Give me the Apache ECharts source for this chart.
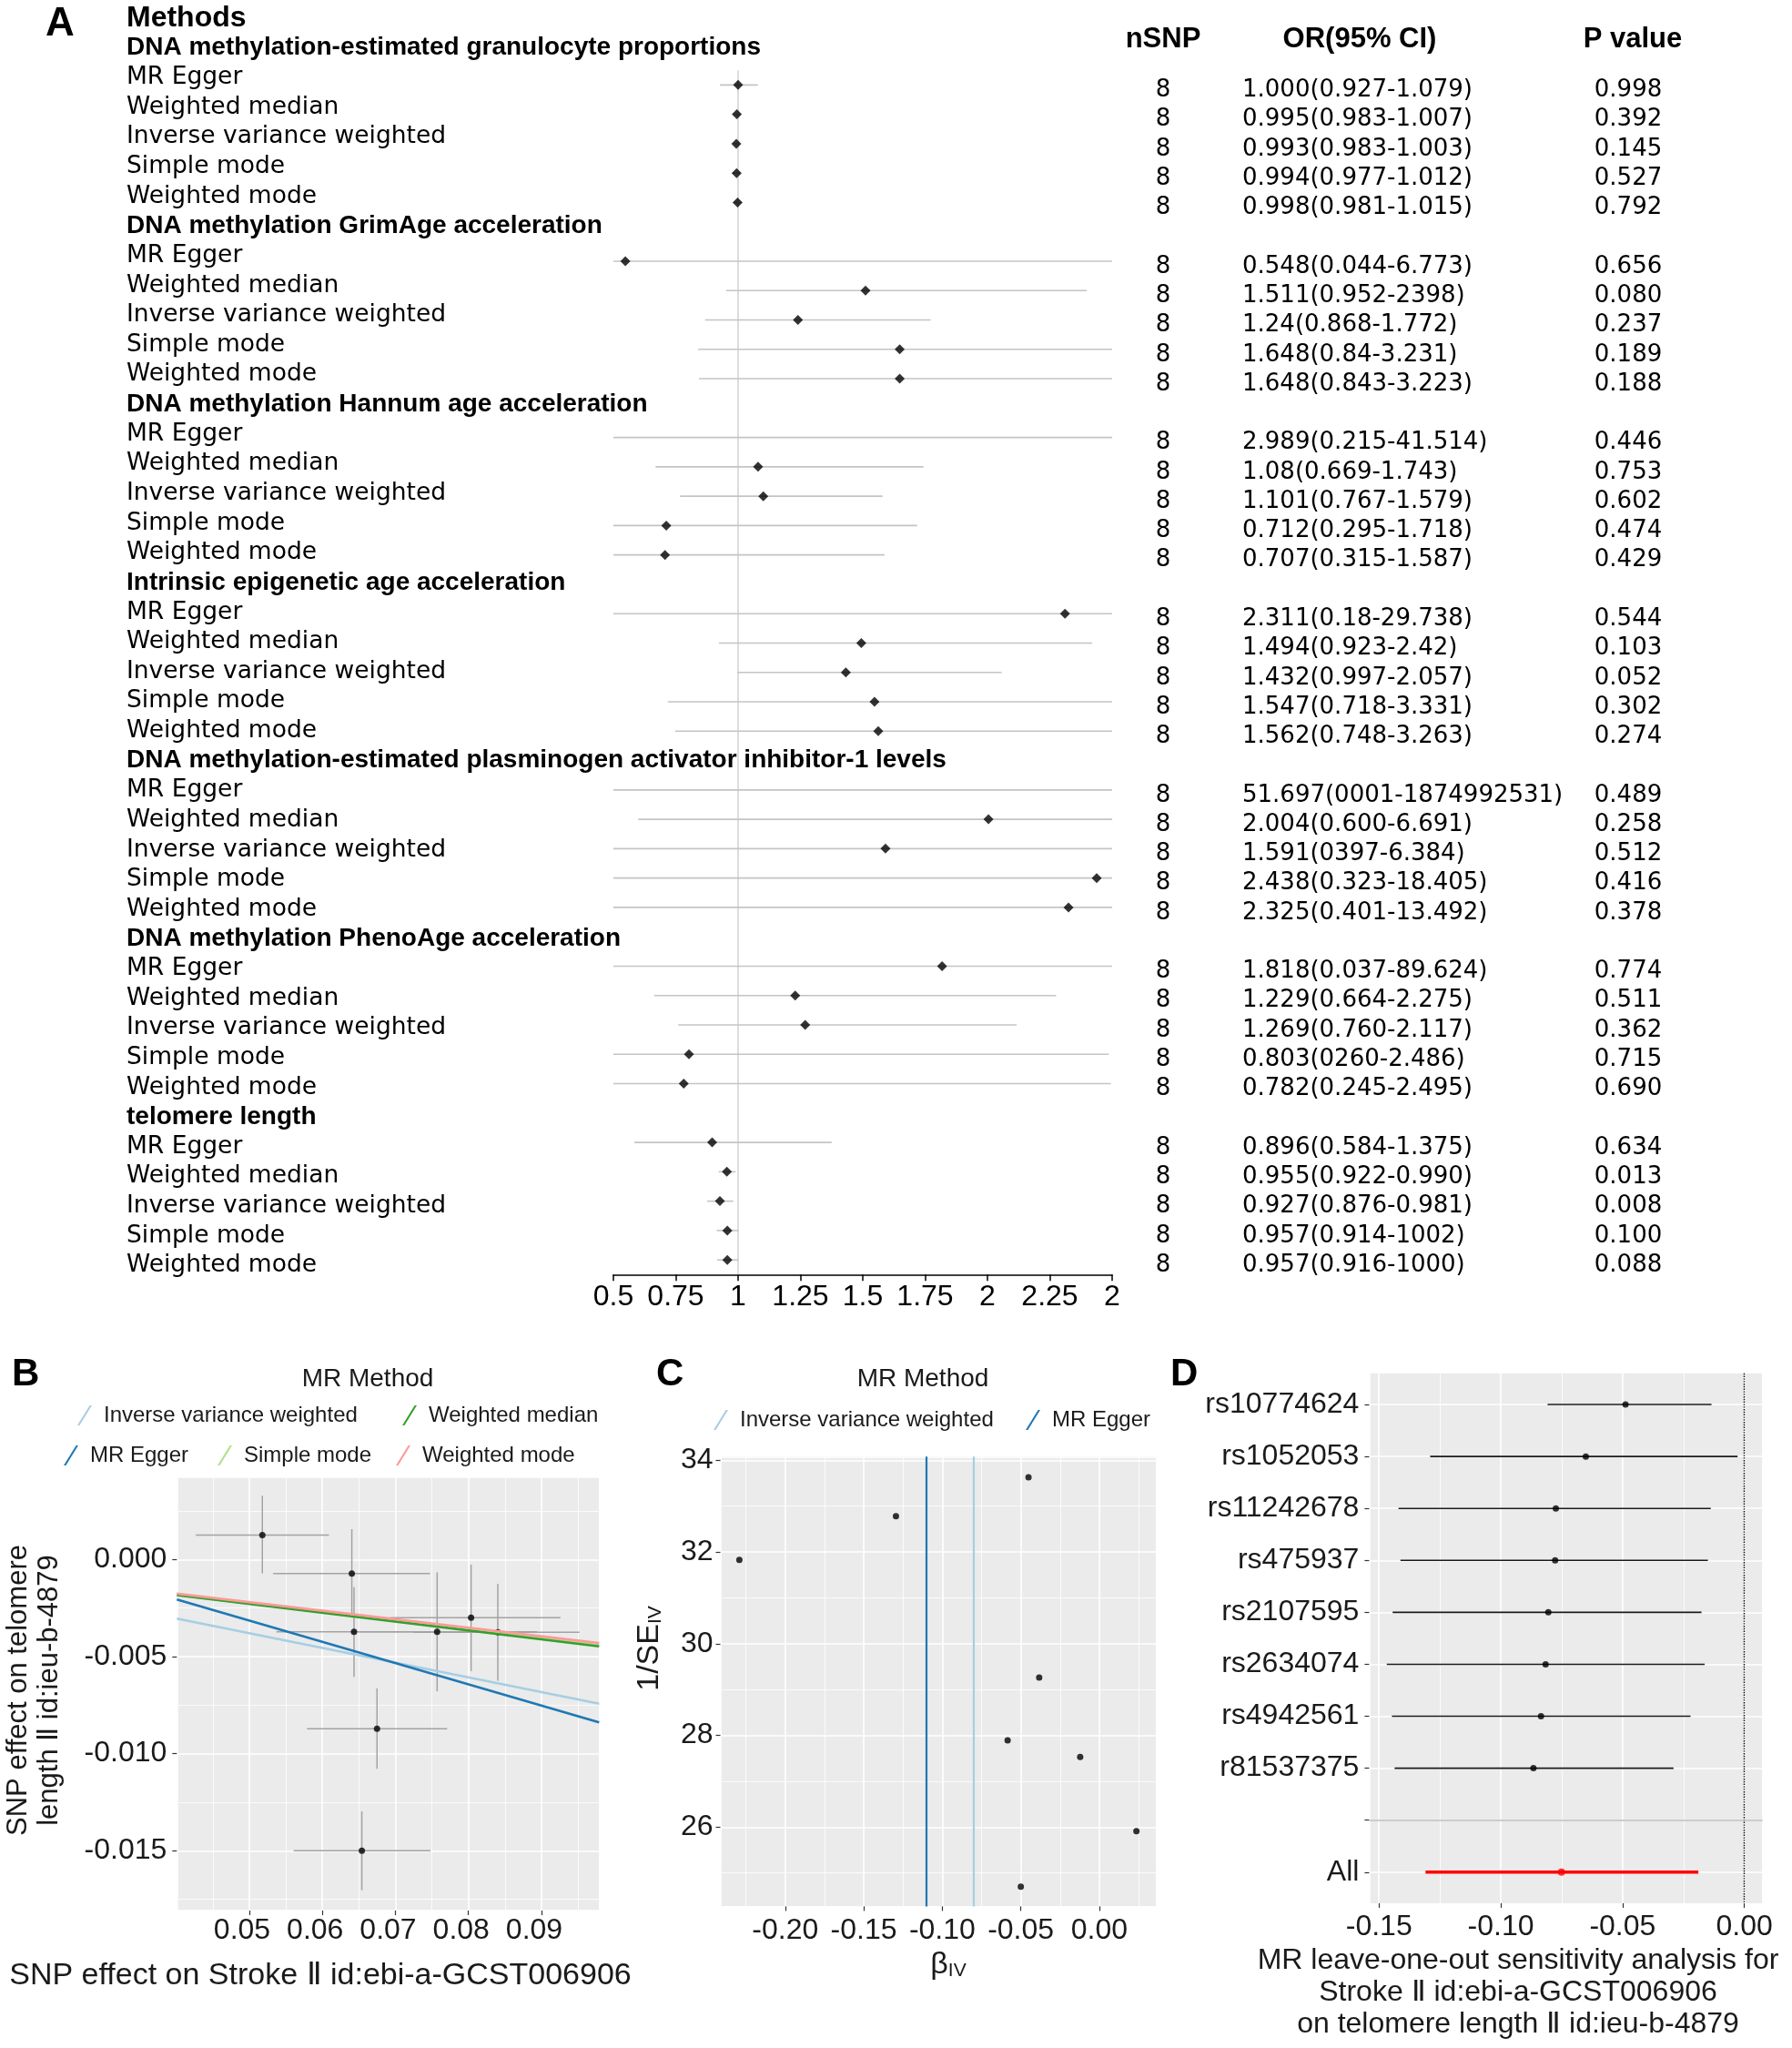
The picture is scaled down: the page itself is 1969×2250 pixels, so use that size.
<!DOCTYPE html>
<html>
<head>
<meta charset="utf-8">
<title>MR forest and sensitivity plots</title>
<script src="https://cdn.jsdelivr.net/npm/echarts@6.0.0/dist/echarts.min.js"></script>
<style>
html,body{margin:0;padding:0;background:#ffffff;}
#chart{width:1969px;height:2250px;}
</style>
</head>
<body>
<div id="chart"></div>
<script>
// ================= Panel A : forest plot =================
const groupNames = [
  'DNA methylation-estimated granulocyte proportions',
  'DNA methylation GrimAge acceleration',
  'DNA methylation Hannum age acceleration',
  'Intrinsic epigenetic age acceleration',
  'DNA methylation-estimated plasminogen activator inhibitor-1 levels',
  'DNA methylation PhenoAge acceleration',
  'telomere length'
];
const methodNames = ['MR Egger', 'Weighted median', 'Inverse variance weighted', 'Simple mode', 'Weighted mode'];

const orValues = [
  1.000, 0.995, 0.993, 0.994, 0.998,
  0.548, 1.511, 1.24, 1.648, 1.648,
  2.989, 1.08, 1.101, 0.712, 0.707,
  2.311, 1.494, 1.432, 1.547, 1.562,
  51.697, 2.004, 1.591, 2.438, 2.325,
  1.818, 1.229, 1.269, 0.803, 0.782,
  0.896, 0.955, 0.927, 0.957, 0.957
];
const ciLower = [
  0.927, 0.983, 0.983, 0.977, 0.981,
  0.044, 0.952, 0.868, 0.84, 0.843,
  0.215, 0.669, 0.767, 0.295, 0.315,
  0.18, 0.923, 0.997, 0.718, 0.748,
  0.001, 0.600, 0.397, 0.323, 0.401,
  0.037, 0.664, 0.760, 0.260, 0.245,
  0.584, 0.922, 0.876, 0.914, 0.916
];
const ciUpper = [
  1.079, 1.007, 1.003, 1.012, 1.015,
  6.773, 2.398, 1.772, 3.231, 3.223,
  41.514, 1.743, 1.579, 1.718, 1.587,
  29.738, 2.42, 2.057, 3.331, 3.263,
  1874992531, 6.691, 6.384, 18.405, 13.492,
  89.624, 2.275, 2.117, 2.486, 2.495,
  1.375, 0.990, 0.981, 1.002, 1.000
];
const nsnpText = [
  '8','8','8','8','8',
  '8','8','8','8','8',
  '8','8','8','8','8',
  '8','8','8','8','8',
  '8','8','8','8','8',
  '8','8','8','8','8',
  '8','8','8','8','8'
];
const orText = [
  '1.000(0.927-1.079)', '0.995(0.983-1.007)', '0.993(0.983-1.003)', '0.994(0.977-1.012)', '0.998(0.981-1.015)',
  '0.548(0.044-6.773)', '1.511(0.952-2398)', '1.24(0.868-1.772)', '1.648(0.84-3.231)', '1.648(0.843-3.223)',
  '2.989(0.215-41.514)', '1.08(0.669-1.743)', '1.101(0.767-1.579)', '0.712(0.295-1.718)', '0.707(0.315-1.587)',
  '2.311(0.18-29.738)', '1.494(0.923-2.42)', '1.432(0.997-2.057)', '1.547(0.718-3.331)', '1.562(0.748-3.263)',
  '51.697(0001-1874992531)', '2.004(0.600-6.691)', '1.591(0397-6.384)', '2.438(0.323-18.405)', '2.325(0.401-13.492)',
  '1.818(0.037-89.624)', '1.229(0.664-2.275)', '1.269(0.760-2.117)', '0.803(0260-2.486)', '0.782(0.245-2.495)',
  '0.896(0.584-1.375)', '0.955(0.922-0.990)', '0.927(0.876-0.981)', '0.957(0.914-1002)', '0.957(0.916-1000)'
];
const pText = [
  '0.998', '0.392', '0.145', '0.527', '0.792',
  '0.656', '0.080', '0.237', '0.189', '0.188',
  '0.446', '0.753', '0.602', '0.474', '0.429',
  '0.544', '0.103', '0.052', '0.302', '0.274',
  '0.489', '0.258', '0.512', '0.416', '0.378',
  '0.774', '0.511', '0.362', '0.715', '0.690',
  '0.634', '0.013', '0.008', '0.100', '0.088'
];
const forestTickLabels = ['0.5', '0.75', '1', '1.25', '1.5', '1.75', '2', '2.25', '2'];

// ================= Panel B : scatter of SNP effects =================
const snpExpBeta = [0.05178, 0.06403, 0.06433, 0.07571, 0.08036, 0.08402, 0.06748, 0.06540];
const snpExpLo   = [0.04267, 0.05325, 0.05370, 0.06500, 0.06930, 0.07250, 0.05789, 0.05606];
const snpExpHi   = [0.06090, 0.07472, 0.07490, 0.08940, 0.09260, 0.09520, 0.07708, 0.07480];
const snpOutBeta = [0.00125, -0.00072, -0.00372, -0.00372, -0.00300, -0.00375, -0.00872, -0.01500];
const snpOutLo   = [-0.00072, -0.00300, -0.00604, -0.00679, -0.00575, -0.00625, -0.01078, -0.01703];
const snpOutHi   = [0.00328, 0.00156, -0.00143, -0.00066, -0.00027, -0.00125, -0.00664, -0.01297];
const mrMethods    = ['Inverse variance weighted', 'MR Egger', 'Simple mode', 'Weighted median', 'Weighted mode'];
const mrSlopes     = [-0.0759, -0.1095, -0.0452, -0.0457, -0.0440];
const mrIntercepts = [0, 0.00233, 0, 0, 0];
const mrColors     = ['#A6CEE3', '#1F78B4', '#B2DF8A', '#33A02C', '#FB9A99'];

// ================= Panel C : funnel plot =================
const funnelBeta  = [-0.2292, -0.1295, -0.0451, -0.0383, -0.0584, -0.0122, 0.0236, -0.0500];
const funnelInvSE = [31.83, 32.78, 33.63, 29.26, 27.89, 27.53, 25.91, 24.70];

// ================= Panel D : leave-one-out =================
const looSnps = ['rs10774624', 'rs1052053', 'rs11242678', 'rs475937', 'rs2107595', 'rs2634074', 'rs4942561', 'r81537375', '', 'All'];
const looBeta = [-0.0488, -0.0651, -0.0774, -0.0777, -0.0805, -0.0816, -0.0835, -0.0866, null, -0.0751];
const looLo   = [-0.0808, -0.1290, -0.1420, -0.1412, -0.1444, -0.1468, -0.1447, -0.1436, null, -0.1309];
const looHi   = [-0.0135, -0.0028, -0.0138, -0.0150, -0.0176, -0.0163, -0.0221, -0.0291, null, -0.0189];

// ---------------- derived structures ----------------
const SANS = 'Liberation Sans, Arial, Helvetica, sans-serif';
const WIDE = 'DejaVu Sans, Verdana, sans-serif';
const TXT = '#1a1a1a';
const FOREST_MIN = 0.5, FOREST_MAX = 2.5;
const rowsPerGroup = methodNames.length + 1;
const nRows = groupNames.length * rowsPerGroup - 1;

const leftLabels = ['Methods'];
const leftKinds = ['m'];
groupNames.forEach(g => {
  leftLabels.push(g); leftKinds.push('h');
  methodNames.forEach(m => { leftLabels.push(m); leftKinds.push('r'); });
});

const tableN = new Array(nRows).fill('');
const tableOR = new Array(nRows).fill('');
const tableP = new Array(nRows).fill('');
const dotData = [], ciData = [];
let k = 0;
groupNames.forEach((g, gi) => {
  methodNames.forEach((m, mi) => {
    const row = gi * rowsPerGroup + mi;
    tableN[row] = nsnpText[k];
    tableOR[row] = orText[k];
    tableP[row] = pText[k];
    dotData.push([orValues[k], row]);
    ciData.push([ciLower[k], ciUpper[k], row]);
    k++;
  });
});

const B_XMIN = 0.04007, B_XMAX = 0.09789, B_YMIN = -0.01808, B_YMAX = 0.004245;
const C_XMIN = -0.2413, C_XMAX = 0.0362, C_YMIN = 24.27, C_YMAX = 34.08;
const D_XMIN = -0.15404, D_XMAX = 0.00744;

const bErrData = snpExpBeta.map((x, i) => [x, snpExpLo[i], snpExpHi[i], snpOutBeta[i], snpOutLo[i], snpOutHi[i]]);
const bPointData = snpExpBeta.map((x, i) => [x, snpOutBeta[i]]);
const cPointData = funnelBeta.map((x, i) => [x, funnelInvSE[i]]);
const dCiData = [], dPointData = [];
looSnps.forEach((s, i) => {
  if (looBeta[i] === null) return;
  const isAll = s === 'All';
  dCiData.push({ value: [looLo[i], looHi[i], i + 1], isAll: isAll });
  dPointData.push({ value: [looBeta[i], i + 1], itemStyle: { color: isAll ? '#FF0000' : '#000000' }, symbolSize: isAll ? 8 : 7 });
});
const looTickValues = looSnps.map((s, i) => i + 1);

function fmtNum(v, d) { if (Math.abs(v) < 1e-12) v = 0; return v.toFixed(d); }

function ggAxisCommon(extra) {
  return Object.assign({
    type: 'value',
    axisLine: { show: false, onZero: false },
    axisTick: { show: true, length: 5, lineStyle: { color: '#333333', width: 1.2 } },
    splitLine: { show: true, lineStyle: { color: '#ffffff', width: 1.6 } },
    minorTick: { show: false, splitNumber: 2 },
    minorSplitLine: { show: true, lineStyle: { color: '#ffffff', width: 0.8 } }
  }, extra);
}

const SLASH = 'path://M0,22L2.4,22L16,0L13.6,0Z';
function legendAt(name, left, cy) {
  return {
    selectedMode: false, data: [name], left: left, top: cy - 12, padding: 0,
    orient: 'horizontal', itemWidth: 16, itemHeight: 22, icon: SLASH,
    textStyle: { fontSize: 24, fontFamily: SANS, color: TXT, padding: [0, 0, 0, 8] }
  };
}

function gtext(x, y, text, size, opts) {
  opts = opts || {};
  return {
    type: 'text', x: x, y: y, rotation: opts.rotation || 0, silent: true,
    style: Object.assign({
      text: text, fontSize: size, fontFamily: opts.family || SANS,
      fontWeight: opts.bold ? 'bold' : 'normal', fill: opts.color || '#000',
      align: opts.align || 'center', verticalAlign: 'middle'
    }, opts.style || {})
  };
}

const chart = echarts.init(document.getElementById('chart'), null, { renderer: 'canvas', width: 1969, height: 2250 });

const tableLabel = (align) => ({ interval: 0, align: align, margin: 0, fontSize: 26, fontFamily: WIDE, color: '#000' });

const option = {
  backgroundColor: '#ffffff',
  animation: false,
  grid: [
    { left: 139, top: 3.7, width: 10, height: 1403.1, show: false, outerBoundsMode: 'none', containLabel: false },
    { left: 674, top: 77.2, width: 548, height: 1323.1, show: false, outerBoundsMode: 'none', containLabel: false },
    { left: 194.3, top: 1622.7, width: 464, height: 476.3, show: true, backgroundColor: '#EBEBEB', borderWidth: 0, outerBoundsMode: 'none', containLabel: false },
    { left: 791.5, top: 1600.3, width: 478.9, height: 494.1, show: true, backgroundColor: '#EBEBEB', borderWidth: 0, outerBoundsMode: 'none', containLabel: false },
    { left: 1504.4, top: 1508.8, width: 432.2, height: 582.2, show: true, backgroundColor: '#EBEBEB', borderWidth: 0, outerBoundsMode: 'none', containLabel: false },
    // table grid: same rows as the forest, nudged slightly down like the reference text
    { left: 674, top: 83.2, width: 548, height: 1323.1, show: false, outerBoundsMode: 'none', containLabel: false }
  ],
  xAxis: [
    { gridIndex: 0, type: 'value', show: false },
    {
      gridIndex: 1, type: 'value', min: FOREST_MIN, max: FOREST_MAX, interval: 0.25,
      axisLine: { show: true, onZero: false, lineStyle: { color: '#000', width: 1.5 } },
      axisTick: { show: true, length: 7, lineStyle: { color: '#000', width: 1.5 } },
      axisLabel: { fontSize: 32, fontFamily: SANS, color: '#000', margin: 9,
        formatter: v => forestTickLabels[Math.round((v - FOREST_MIN) / 0.25)] },
      splitLine: { show: false }
    },
    ggAxisCommon({
      gridIndex: 2, min: B_XMIN, max: B_XMAX, minInterval: 0.01, maxInterval: 0.01,
      axisLabel: { fontSize: 32, fontFamily: SANS, color: TXT, margin: 6, showMinLabel: false, showMaxLabel: false,
        padding: [0, 16, 0, 0], formatter: v => fmtNum(v, 2) }
    }),
    ggAxisCommon({
      gridIndex: 3, min: C_XMIN, max: C_XMAX, minInterval: 0.05, maxInterval: 0.05,
      axisLabel: { fontSize: 32, fontFamily: SANS, color: TXT, margin: 11, showMinLabel: false, showMaxLabel: false,
        formatter: v => fmtNum(v, 2) }
    }),
    ggAxisCommon({
      gridIndex: 4, min: D_XMIN, max: D_XMAX, minInterval: 0.05, maxInterval: 0.05,
      axisLabel: { fontSize: 32, fontFamily: SANS, color: TXT, margin: 10, showMinLabel: false, showMaxLabel: false,
        formatter: v => fmtNum(v, 2) }
    }),
    { gridIndex: 5, type: 'value', show: false }
  ],
  yAxis: [
    {
      gridIndex: 0, type: 'category', inverse: true, data: leftLabels,
      axisLine: { show: false, onZero: false }, axisTick: { show: false }, splitLine: { show: false },
      axisLabel: {
        interval: 0, align: 'left', margin: 0,
        formatter: (v, i) => '{' + leftKinds[i] + '|' + v + '}',
        rich: {
          m: { fontFamily: SANS, fontWeight: 'bold', fontSize: 32, color: '#000' },
          h: { fontFamily: SANS, fontWeight: 'bold', fontSize: 28, color: '#000' },
          r: { fontFamily: WIDE, fontSize: 26.5, color: '#000' }
        }
      }
    },
    { gridIndex: 1, type: 'value', min: -0.5, max: nRows - 0.5, inverse: true, show: false, axisLine: { onZero: false } },
    {
      gridIndex: 5, type: 'category', position: 'right', offset: 56, inverse: true, data: tableN,
      axisLine: { show: false, onZero: false }, axisTick: { show: false }, splitLine: { show: false },
      axisLabel: tableLabel('center')
    },
    {
      gridIndex: 5, type: 'category', position: 'right', offset: 143, inverse: true, data: tableOR,
      axisLine: { show: false, onZero: false }, axisTick: { show: false }, splitLine: { show: false },
      axisLabel: tableLabel('left')
    },
    {
      gridIndex: 5, type: 'category', position: 'right', offset: 567, inverse: true, data: tableP,
      axisLine: { show: false, onZero: false }, axisTick: { show: false }, splitLine: { show: false },
      axisLabel: tableLabel('center')
    },
    ggAxisCommon({
      gridIndex: 2, min: B_YMIN, max: B_YMAX, minInterval: 0.005, maxInterval: 0.005,
      axisLabel: { fontSize: 32, fontFamily: SANS, color: TXT, margin: 11, showMinLabel: false, showMaxLabel: false,
        formatter: v => fmtNum(v, 3) }
    }),
    ggAxisCommon({
      gridIndex: 3, min: C_YMIN, max: C_YMAX, minInterval: 2, maxInterval: 2,
      axisLabel: { fontSize: 32, fontFamily: SANS, color: TXT, margin: 8, showMinLabel: false, showMaxLabel: false,
        formatter: v => fmtNum(v, 0) }
    }),
    {
      gridIndex: 4, type: 'value', min: 0.4, max: 10.6, inverse: true, minInterval: 1, maxInterval: 1,
      axisLine: { show: false, onZero: false },
      axisTick: { show: true, length: 5, lineStyle: { color: '#333333', width: 1.2 }, customValues: looTickValues },
      axisLabel: { customValues: looTickValues, margin: 11, fontSize: 32, fontFamily: SANS, color: TXT,
        formatter: v => (Math.abs(v - Math.round(v)) < 1e-6 ? (looSnps[Math.round(v) - 1] || '') : '') },
      splitLine: { show: true, lineStyle: { color: '#ffffff', width: 1.6 } }
    }
  ],
  legend: [
    legendAt('Inverse variance weighted', 85, 1555),
    legendAt('Weighted median', 442, 1555),
    legendAt('MR Egger', 70, 1599),
    legendAt('Simple mode', 239, 1599),
    legendAt('Weighted mode', 435, 1599),
    legendAt('Inverse variance weighted', 784, 1560),
    legendAt('MR Egger', 1127, 1560)
  ],
  series: [
    // ---- Panel A ----
    {
      type: 'custom', name: 'forestCI', xAxisIndex: 1, yAxisIndex: 1, data: ciData, silent: true, z: 2,
      encode: { x: [0, 1], y: 2 },
      renderItem: function (params, api) {
        const lo = Math.max(api.value(0), FOREST_MIN), hi = Math.min(api.value(1), FOREST_MAX);
        const r = api.value(2);
        const p1 = api.coord([lo, r]), p2 = api.coord([hi, r]);
        return { type: 'line', shape: { x1: p1[0], y1: p1[1], x2: p2[0], y2: p2[1] }, style: { stroke: '#C4C4C4', lineWidth: 1.6 } };
      }
    },
    {
      type: 'scatter', name: 'forestOR', xAxisIndex: 1, yAxisIndex: 1, data: dotData, clip: true, silent: true, z: 3,
      symbol: 'diamond', symbolSize: [11, 11], itemStyle: { color: '#000' },
      markLine: { silent: true, symbol: ['none', 'none'], label: { show: false }, z: 1,
        lineStyle: { color: '#D2D2D2', width: 1.5, type: 'solid' }, data: [{ xAxis: 1 }] }
    },
    // ---- Panel B ----
    {
      type: 'custom', name: 'snpErr', xAxisIndex: 2, yAxisIndex: 5, data: bErrData, silent: true, z: 2,
      encode: { x: [0, 1, 2], y: [3, 4, 5] },
      renderItem: function (params, api) {
        const x = api.value(0), xl = api.value(1), xh = api.value(2);
        const y = api.value(3), yl = api.value(4), yh = api.value(5);
        const a = api.coord([xl, y]), b = api.coord([xh, y]), c = api.coord([x, yl]), d = api.coord([x, yh]);
        const st = { stroke: '#A3A3A3', lineWidth: 1.5 };
        return { type: 'group', children: [
          { type: 'line', shape: { x1: a[0], y1: a[1], x2: b[0], y2: b[1] }, style: st },
          { type: 'line', shape: { x1: c[0], y1: c[1], x2: d[0], y2: d[1] }, style: st }
        ] };
      }
    },
    {
      type: 'scatter', name: 'snpPoints', xAxisIndex: 2, yAxisIndex: 5, data: bPointData, silent: true, z: 3,
      symbol: 'circle', symbolSize: 7, itemStyle: { color: '#000' }
    }
  ].concat(mrMethods.map((m, i) => ({
    type: 'line', name: m, xAxisIndex: 2, yAxisIndex: 5, silent: true, z: 4,
    showSymbol: false, symbol: 'none', color: mrColors[i], itemStyle: { color: mrColors[i] },
    lineStyle: { color: mrColors[i], width: 2.6 },
    data: [[B_XMIN, mrIntercepts[i] + mrSlopes[i] * B_XMIN], [B_XMAX, mrIntercepts[i] + mrSlopes[i] * B_XMAX]]
  }))).concat([
    // ---- Panel C ----
    {
      type: 'scatter', name: 'funnel', xAxisIndex: 3, yAxisIndex: 6, data: cPointData, silent: true, z: 3,
      symbol: 'circle', symbolSize: 7, itemStyle: { color: '#000' },
      markLine: {
        silent: true, symbol: ['none', 'none'], label: { show: false },
        data: [
          { xAxis: mrSlopes[0], lineStyle: { color: mrColors[0], width: 2.2, type: 'solid' } },
          { xAxis: mrSlopes[1], lineStyle: { color: mrColors[1], width: 2.2, type: 'solid' } }
        ]
      }
    },
    // ---- Panel D ----
    {
      type: 'custom', name: 'looCI', xAxisIndex: 4, yAxisIndex: 7, data: dCiData, silent: true, z: 2,
      encode: { x: [0, 1], y: 2 },
      renderItem: function (params, api) {
        const item = dCiData[params.dataIndex];
        const r = api.value(2);
        const p1 = api.coord([api.value(0), r]), p2 = api.coord([api.value(1), r]);
        return { type: 'line', shape: { x1: p1[0], y1: p1[1], x2: p2[0], y2: p2[1] },
          style: { stroke: item.isAll ? '#FF0000' : '#1a1a1a', lineWidth: item.isAll ? 3.5 : 1.6 } };
      }
    },
    {
      type: 'scatter', name: 'looPoints', xAxisIndex: 4, yAxisIndex: 7, data: dPointData, silent: true, z: 3,
      symbol: 'circle',
      markLine: {
        silent: true, symbol: ['none', 'none'], label: { show: false },
        data: [
          { xAxis: 0, lineStyle: { color: '#000', width: 1.4, type: 'dotted' } },
          { yAxis: 9, lineStyle: { color: '#BDBDBD', width: 1.6, type: 'solid' } }
        ]
      }
    }
  ]),
  graphic: [
    gtext(50, 27, 'A', 44, { bold: true, align: 'left' }),
    gtext(1278, 43, 'nSNP', 31, { bold: true }),
    gtext(1494, 43, 'OR(95% CI)', 31, { bold: true }),
    gtext(1794, 43, 'P value', 31, { bold: true }),
    gtext(13, 1510, 'B', 42, { bold: true, align: 'left' }),
    gtext(721, 1510, 'C', 42, { bold: true, align: 'left' }),
    gtext(1286, 1510, 'D', 42, { bold: true, align: 'left' }),
    gtext(404, 1515, 'MR Method', 28, { color: TXT }),
    gtext(1014, 1515, 'MR Method', 28, { color: TXT }),
    gtext(37, 1857, 'SNP effect on telomere\nlength Ⅱ id:ieu-b-4879', 31,
      { color: TXT, rotation: Math.PI / 2, style: { lineHeight: 34 } }),
    gtext(352, 2171, 'SNP effect on Stroke Ⅱ id:ebi-a-GCST006906', 34, { color: TXT }),
    {
      type: 'text', x: 714, y: 1811, rotation: Math.PI / 2, silent: true,
      style: {
        text: '{a|1/SE}{s|IV}', align: 'center', verticalAlign: 'middle',
        rich: {
          a: { fontSize: 34, fontFamily: SANS, fill: TXT, color: TXT },
          s: { fontSize: 21, fontFamily: SANS, fill: TXT, color: TXT, verticalAlign: 'bottom' }
        }
      }
    },
    {
      type: 'text', x: 1042, y: 2159, silent: true,
      style: {
        text: '{a|β}{s|IV}', align: 'center', verticalAlign: 'middle',
        rich: {
          a: { fontSize: 34, fontFamily: SANS, fill: TXT, color: TXT },
          s: { fontSize: 21, fontFamily: SANS, fill: TXT, color: TXT, verticalAlign: 'bottom' }
        }
      }
    },
    gtext(1668, 2189, 'MR leave-one-out sensitivity analysis for\nStroke Ⅱ id:ebi-a-GCST006906\non telomere length Ⅱ id:ieu-b-4879', 32,
      { color: TXT, style: { lineHeight: 35 } })
  ]
};

chart.setOption(option);
</script>
</body>
</html>
